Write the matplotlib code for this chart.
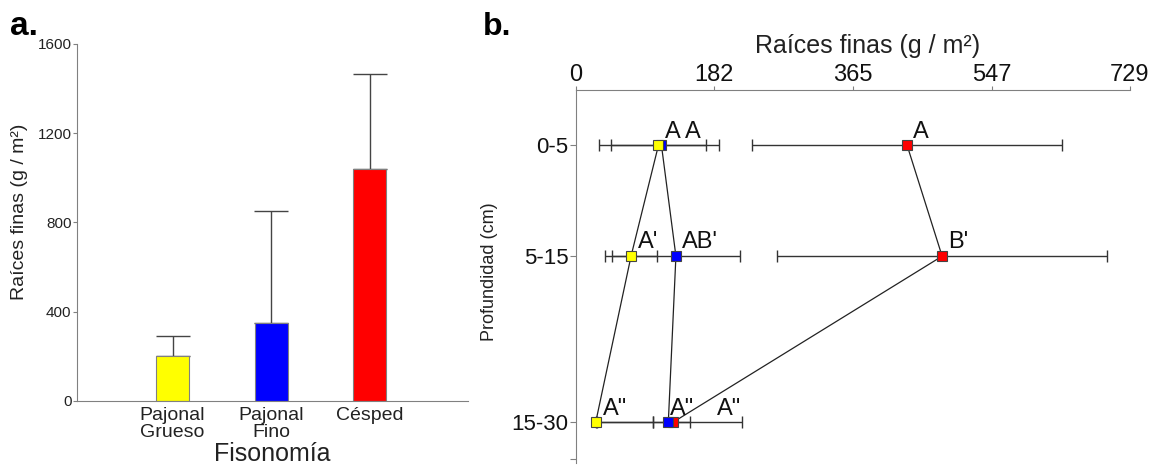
import numpy as np
import matplotlib
matplotlib.use('Agg')
import matplotlib.pyplot as plt

plt.rcParams['font.family'] = ['Liberation Sans', 'DejaVu Sans']

# panel a: fine roots by physiognomy
cats_a = ['Pajonal\nGrueso', 'Pajonal\nFino', 'Césped']
mean_a = [203, 351, 1041]
err_a = [90, 502, 424]
colors = ['#ffff00', '#0000ff', '#ff0000']

# panel b: fine roots by depth
depth_labels = ['0-5', '5-15', '15-30']
depth_pos = [5, 15, 30]
grueso = [109, 73, 26.5]
grueso_lo = [62, 34, 0]
grueso_hi = [62, 34, 76]
fino = [113, 132, 122]
fino_lo = [82, 84, 20]
fino_hi = [76, 84, 28]
cesped = [436, 482, 128]
cesped_lo = [204, 217, 100]
cesped_hi = [204, 217, 91]

# significance letters per depth and where they sit (x in g/m2)
letters = [['A', 'A', 'A'], ["A'", "AB'", "B'"], ['A"', 'A"', 'A"']]
letters_x = [[118, 144, 444], [82, 140, 490], [36, 124, 186]]

gray = '#808080'
fig = plt.figure(figsize=(11.58, 4.68), dpi=100)

# ---- a ----
ax1 = fig.add_axes([0.0665, 0.1432, 0.3377, 0.763])
x = np.arange(1, len(cats_a) + 1)
ax1.bar(x, mean_a, width=0.335, color=colors, edgecolor=gray, linewidth=0.8, zorder=2)
ax1.errorbar(x, mean_a, yerr=[np.zeros(len(x)), err_a], fmt='none', ecolor='#444444',
             elinewidth=1, capsize=12, capthick=1, zorder=1)
ax1.set_xlim(0.03, 4.0)
ax1.set_ylim(0, 1600)
ax1.set_yticks([0, 400, 800, 1200, 1600])
ax1.set_xticks(x)
ax1.set_xticklabels(cats_a, linespacing=1.05)
for s in ['top', 'right']:
    ax1.spines[s].set_visible(False)
for s in ['left', 'bottom']:
    ax1.spines[s].set_color(gray)
ax1.tick_params(axis='y', length=3, color=gray, labelsize=11, pad=1, labelcolor='#222222')
ax1.tick_params(axis='x', length=0, labelsize=14, pad=4, labelcolor='#222222')
ax1.set_xlabel('Fisonomía', fontsize=18, color='#222222')
ax1.xaxis.set_label_coords(0.5, -0.115)
ax1.set_ylabel('Raíces finas (g / m²)', fontsize=14, color='#222222')
ax1.yaxis.set_label_coords(-0.125, 0.53)
fig.text(0.009, 0.925, 'a.', fontsize=24, fontweight='bold')

# ---- b ----
ax2 = fig.add_axes([0.497, 0.0107, 0.4788, 0.797])
series = [(cesped, cesped_lo, cesped_hi, colors[2]),
          (fino, fino_lo, fino_hi, colors[1]),
          (grueso, grueso_lo, grueso_hi, colors[0])]
for vals, lo, hi, c in series:
    ax2.plot(vals, depth_pos, color='#222222', lw=0.9, zorder=2)
    ax2.errorbar(vals, depth_pos, xerr=[lo, hi], fmt='none', ecolor='#333333',
                 elinewidth=1, capsize=4, capthick=1, zorder=3)
for vals, lo, hi, c in series:
    ax2.plot(vals, depth_pos, 's', ms=6.5, mfc=c, mec='#444444', mew=0.8,
             ls='none', zorder=4)
for i, d in enumerate(depth_pos):
    for lab, lx in zip(letters[i], letters_x[i]):
        ax2.text(lx, d - 0.7, lab, fontsize=17, va='baseline', ha='left', color='#111111')

ax2.set_xlim(0, 729)
ax2.set_ylim(33.67, 0)
ax2.xaxis.tick_top()
ax2.set_xticks([0, 182, 365, 547, 729])
ax2.set_yticks(depth_pos + [33.3])
ax2.set_yticklabels(depth_labels + [''])
for s in ['bottom', 'right']:
    ax2.spines[s].set_visible(False)
for s in ['top', 'left']:
    ax2.spines[s].set_color(gray)
ax2.tick_params(axis='x', length=3, color=gray, labelsize=17, pad=0, labelcolor='#111111')
ax2.tick_params(axis='y', length=4, color=gray, labelsize=16, pad=1, labelcolor='#111111')
ax2.xaxis.set_label_position('top')
ax2.set_xlabel('Raíces finas (g / m²)', fontsize=18, color='#222222')
ax2.xaxis.set_label_coords(0.5275, 1.10)
ax2.set_ylabel('Profundidad (cm)', fontsize=13, color='#222222')
ax2.yaxis.set_label_coords(-0.14, 0.512)
fig.text(0.417, 0.925, 'b.', fontsize=23, fontweight='bold')

plt.savefig('out.png', dpi=100)
